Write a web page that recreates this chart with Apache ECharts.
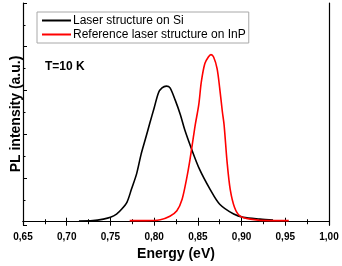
<!DOCTYPE html>
<html>
<head>
<meta charset="utf-8">
<script src="https://cdn.jsdelivr.net/npm/echarts@6/dist/echarts.min.js"></script>
<style>html,body{margin:0;padding:0;background:#fff}#c{width:342px;height:266px}</style>
</head>
<body>
<div id="c"></div>
<script>
// Data (energy in eV, PL intensity in arbitrary units)
var siEnergy = [0.714,0.730,0.742,0.750,0.757,0.763,0.769,0.774,0.780,0.785,0.790,0.795,0.800,0.805,0.809,0.814,0.818,0.824,0.830,0.835,0.843,0.852,0.864,0.875,0.891,0.902,0.921,0.936];
var siIntensity = [0.03,0.05,0.12,0.20,0.35,0.58,0.90,1.48,2.20,3.07,3.78,4.50,5.20,5.90,6.12,6.20,6.13,5.57,4.89,4.20,3.30,2.39,1.48,0.80,0.35,0.20,0.12,0.08];
var inpEnergy = [0.772,0.790,0.807,0.818,0.826,0.832,0.837,0.841,0.845,0.847,0.851,0.854,0.858,0.862,0.865,0.868,0.872,0.875,0.878,0.880,0.8835,0.887,0.892,0.898,0.910,0.933,0.954];
var inpIntensity = [0.05,0.05,0.09,0.25,0.50,1.03,1.94,2.84,3.90,4.43,5.34,6.40,7.23,7.53,7.64,7.53,7.00,6.10,5.04,4.43,2.70,1.48,0.65,0.27,0.12,0.05,0.05];
var seriesNames = ["Laser structure on Si", "Reference laser structure on InP"];
var annotation = "T=10 K";
var xTitle = "Energy (eV)";
var yTitle = "PL intensity (a.u.)";

function pairs(xs, ys){ return xs.map(function(x,i){ return [x, ys[i]]; }); }

var font = "Liberation Sans";
var chart = echarts.init(document.getElementById('c'), null, {renderer:'canvas'});
chart.setOption({
  animation: false,
  textStyle: {fontFamily: font},
  grid: {left: 23, right: 13, top: 3, bottom: 40},
  title: {text: annotation, left: 45, top: 61, padding: 0,
    textStyle: {fontFamily: font, fontWeight: 'bold', fontSize: 12, color: '#000'}},
  legend: {
    orient: 'vertical', left: 37, top: 12,
    padding: [2, 3, 2, 5], itemGap: 1,
    itemWidth: 29, itemHeight: 2, icon: 'rect',
    backgroundColor: '#fff', borderColor: '#a8a8a8', borderWidth: 1,
    textStyle: {fontFamily: font, fontSize: 12, color: '#000', lineHeight: 13, padding: [0,0,0,-3]},
    data: seriesNames
  },
  xAxis: [{
    type: 'value', min: 0.65, max: 1.0, interval: 0.05,
    name: xTitle, nameLocation: 'middle', nameGap: 22,
    nameTextStyle: {fontFamily: font, fontWeight: 'bold', fontSize: 14, color: '#000'},
    axisLine: {lineStyle: {color: '#000', width: 1.2}},
    axisTick: {inside: true, length: 4, lineStyle: {color: '#000', width: 1}},
    minorTick: {show: true, splitNumber: 2, length: 2.5, lineStyle: {color: '#000', width: 1}},
    axisLabel: {fontFamily: font, fontWeight: 'bold', fontSize: 10, color: '#000', margin: 7,
      formatter: function(v){ return v.toFixed(2).replace('.', ','); }},
    splitLine: {show: false}
  }, {
    type: 'value', position: 'top', min: 0.65, max: 1.0, interval: 0.05,
    axisLine: {show: true, lineStyle: {color: '#000', width: 1.2}},
    axisTick: {inside: true, length: 4, lineStyle: {color: '#000', width: 1}},
    minorTick: {show: true, splitNumber: 2, length: 2.5, lineStyle: {color: '#000', width: 1}},
    axisLabel: {show: false}, splitLine: {show: false}
  }],
  yAxis: [{
    type: 'value', min: -0.15, max: 10, splitNumber: 5,
    name: yTitle, nameLocation: 'middle', nameGap: 0,
    nameTextStyle: {fontFamily: font, fontWeight: 'bold', fontSize: 14, color: '#000'},
    axisLine: {show: true, lineStyle: {color: '#000', width: 1.2}},
    axisTick: {inside: true, length: 4, lineStyle: {color: '#000', width: 1}},
    minorTick: {show: true, splitNumber: 2, length: 2.5, lineStyle: {color: '#000', width: 1}},
    axisLabel: {show: false}, splitLine: {show: false}
  }, {
    type: 'value', position: 'right', min: -0.15, max: 10,
    axisLine: {show: true, lineStyle: {color: '#000', width: 1.2}},
    axisTick: {show: false}, axisLabel: {show: false}, splitLine: {show: false}
  }],
  series: [{
    name: seriesNames[0], type: 'line', data: pairs(siEnergy, siIntensity),
    showSymbol: false, symbol: 'none', smooth: 0.3, itemStyle: {color: '#000'},
    lineStyle: {color: '#000', width: 1.6}
  }, {
    name: seriesNames[1], type: 'line', data: pairs(inpEnergy, inpIntensity),
    showSymbol: false, symbol: 'none', smooth: 0.3, itemStyle: {color: '#f00'},
    lineStyle: {color: '#f00', width: 1.6}
  }]
});
</script>
</body>
</html>
